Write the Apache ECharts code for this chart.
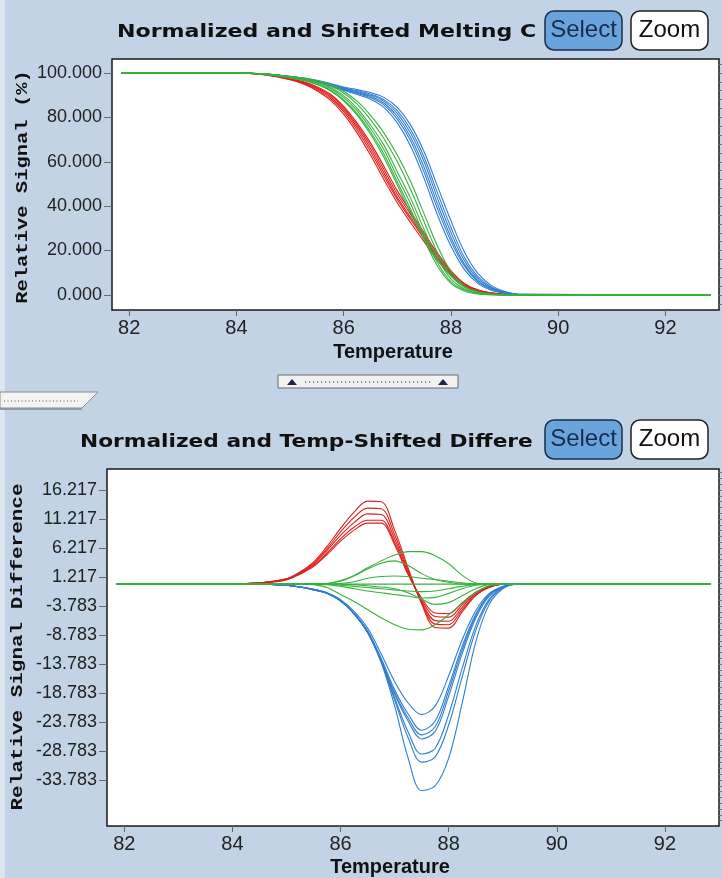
<!DOCTYPE html>
<html>
<head>
<meta charset="utf-8">
<script src="https://cdn.jsdelivr.net/npm/echarts@6/dist/echarts.min.js"></script>
<style>
  html, body { margin: 0; padding: 0; background: #c1d3e4; }
  #main { width: 722px; height: 878px; }
</style>
</head>
<body>
<div id="main"></div>
<script>
const temps = [81.85, 84.0, 84.5, 85.0, 85.25, 85.5, 85.75, 86.0, 86.25, 86.5, 86.75,
               87.0, 87.25, 87.5, 87.75, 88.0, 88.25, 88.5, 88.75, 89.0, 89.25, 92.85]

// top panel: normalized melting curves, relative signal (%)
const meltRed = [
  [100,100,99.3,97.3,95.6,93.0,89.3,83.5,75.5,66.0,55.0,44.0,35.0,26.0,17.0,9.8,4.5,2.0,0.8,0.2,0,0],
  [100,100,99.2,97.0,95.0,92.0,87.8,81.5,73.0,63.0,52.0,41.5,32.5,24.0,15.5,8.8,4.0,1.7,0.6,0.1,0,0],
  [100,100,99.4,97.6,96.0,93.8,90.5,85.0,77.5,68.5,58.0,47.0,37.5,28.0,18.8,11.0,5.2,2.3,0.9,0.2,0,0],
  [100,100,99.3,97.2,95.3,92.5,88.6,82.6,74.3,64.6,53.6,43.0,34.0,25.2,16.4,9.4,4.3,1.9,0.7,0.1,0,0],
  [100,100,99.4,97.5,95.8,93.4,90.0,84.3,76.5,67.3,56.5,45.5,36.3,27.0,18.0,10.5,5.0,2.2,0.9,0.2,0,0]
]
const meltGreen = [
  [100,100,99.5,98.0,97.0,95.5,93.0,89.0,83.0,75.0,65.5,53.0,41.0,27.0,14.5,6.0,2.3,0.6,0.1,0,0,0],
  [100,100,99.5,97.8,96.7,95.0,92.3,88.0,81.8,73.5,63.5,51.0,38.5,25.0,13.0,5.2,1.8,0.4,0.1,0,0,0],
  [100,100,99.6,98.2,97.3,95.9,93.6,89.8,84.2,76.5,67.5,55.5,43.5,29.5,16.5,7.2,2.8,0.8,0.2,0,0,0],
  [100,100,99.6,98.3,97.5,96.3,94.3,91.0,86.0,79.0,70.5,60.0,47.5,33.0,19.0,8.8,3.5,1.1,0.3,0,0,0],
  [100,100,99.6,98.4,97.7,96.6,94.8,91.8,87.3,81.0,73.0,63.0,51.0,36.5,22.0,10.5,4.2,1.4,0.4,0.1,0,0],
  [100,100,99.4,97.8,96.6,94.8,92.0,87.5,81.0,72.5,62.0,49.5,37.0,25.5,15.8,8.5,3.8,1.4,0.4,0.1,0,0]
]
const meltBlue = [
  [100,100,99.5,98.3,97.4,96.2,94.6,92.8,91.2,89.5,86.5,80.5,71.0,57.5,41.0,26.0,14.0,6.5,2.8,1.0,0.2,0],
  [100,100,99.5,98.2,97.2,95.9,94.2,92.2,90.3,88.2,84.5,77.5,67.0,52.5,36.0,22.0,11.5,5.2,2.1,0.7,0.1,0],
  [100,100,99.6,98.4,97.6,96.5,95.0,93.3,92.0,90.5,88.0,83.0,74.5,62.0,46.0,30.5,17.0,8.3,3.6,1.3,0.3,0],
  [100,100,99.5,98.3,97.3,96.0,94.4,92.5,90.8,88.9,85.6,79.2,69.3,55.3,38.8,24.3,13.0,6.0,2.5,0.9,0.2,0],
  [100,100,99.6,98.4,97.5,96.4,94.8,93.0,91.6,90.0,87.3,81.8,72.8,60.0,43.5,28.2,15.5,7.4,3.2,1.2,0.3,0],
  [100,100,99.6,98.5,97.7,96.7,95.3,93.7,92.5,91.2,89.0,84.5,76.5,64.5,49.0,33.5,19.5,9.8,4.3,1.6,0.4,0]
]

// bottom panel: temp-shifted difference curves
const diffRed = [
  [0,0,0.2,0.9,2.1,3.8,6.5,9.6,12.4,14.3,14.2,9.3,2.8,-3.4,-7.5,-7.6,-4.8,-2.0,-0.6,0,0,0],
  [0,0,0.2,0.9,2.0,3.6,6.1,9.0,11.5,13.1,13.0,8.5,2.4,-3.2,-6.9,-7.0,-4.4,-1.9,-0.5,0,0,0],
  [0,0,0.2,0.8,1.9,3.4,5.8,8.4,10.6,12.1,12.0,7.8,2.1,-3.0,-6.3,-6.4,-4.0,-1.7,-0.5,0,0,0],
  [0,0,0.2,0.8,1.8,3.2,5.4,7.8,9.8,11.0,11.0,7.2,1.8,-2.7,-5.6,-5.7,-3.6,-1.5,-0.4,0,0,0],
  [0,0,0.1,0.7,1.7,3.0,5.1,7.4,9.3,10.5,10.5,6.8,1.6,-2.4,-5.0,-5.1,-3.2,-1.4,-0.4,0,0,0]
]
const diffBlue = [
  [0,0,0,-0.2,-0.5,-0.9,-1.5,-2.7,-4.7,-7.6,-12.0,-16.8,-20.5,-22.5,-21.0,-15.8,-9.6,-4.6,-1.6,-0.4,0,0],
  [0,0,0,-0.2,-0.5,-0.9,-1.5,-2.8,-5.0,-8.1,-12.8,-18.2,-22.4,-25.2,-23.6,-17.6,-10.7,-5.2,-1.8,-0.4,0,0],
  [0,0,0,-0.2,-0.5,-0.9,-1.6,-2.9,-5.1,-8.3,-13.1,-18.7,-23.1,-26.0,-24.6,-18.4,-11.3,-5.5,-1.9,-0.5,0,0],
  [0,0,0,-0.2,-0.5,-1.0,-1.6,-2.9,-5.2,-8.4,-13.3,-19.0,-23.6,-26.7,-25.4,-19.3,-12.0,-5.9,-2.1,-0.5,0,0],
  [0,0,0,-0.2,-0.5,-1.0,-1.6,-2.9,-5.1,-8.2,-13.2,-19.6,-25.5,-29.3,-28.3,-22.5,-14.5,-7.2,-2.6,-0.6,0,0],
  [0,0,0,-0.2,-0.5,-1.0,-1.6,-2.9,-5.1,-8.2,-13.3,-20.0,-26.5,-30.7,-29.8,-24.3,-16.0,-8.0,-2.9,-0.7,0,0],
  [0,0,0,-0.2,-0.5,-1.0,-1.6,-2.9,-5.1,-8.3,-13.5,-21.0,-30.0,-35.6,-34.8,-30.0,-20.5,-10.0,-3.5,-0.8,0,0]
]
const diffGreen = [
  [0,0,0,0,0,0,0.1,0.6,1.5,2.8,4.0,5.0,5.6,5.6,4.9,3.5,1.5,0.2,0,0,0,0],
  [0,0,0,0,0,0,0.1,0.5,1.4,2.6,3.6,4.0,3.2,1.8,0.8,0.3,0,0,0,0,0,0],
  [0,0,0,0,0,0,0,0.1,0.4,1.0,1.3,1.4,1.3,1.0,0.8,0.5,0.2,0,0,0,0,0],
  [0,0,0,0,0,0,0,-0.2,-0.4,-0.6,-0.8,-1.0,-1.2,-1.3,-1.2,-0.8,-0.4,-0.1,0,0,0,0],
  [0,0,0,0,0,0,-0.1,-0.4,-0.8,-1.2,-1.5,-1.8,-2.1,-2.4,-2.3,-1.6,-0.8,-0.2,0,0,0,0],
  [0,0,0,0,0,-0.1,-0.6,-1.8,-3.0,-4.4,-5.8,-7.0,-7.8,-7.9,-7.0,-5.3,-3.3,-1.5,-0.3,0,0,0],
  [0,0,0,0,0,0,0,0,-0.1,-0.3,-0.5,-0.8,-1.5,-2.6,-3.5,-3.2,-2.0,-0.8,-0.1,0,0,0],
  [0,0,0,0,0,0,0,0,0,0,0,0,0,0,0,0,0,0,0,0,0,0]
]

// tick labels
const tempTicks = [82, 84, 86, 88, 90, 92]
const meltTicks = [0, 20, 40, 60, 80, 100]
const diffTicks = [16.217, 11.217, 6.217, 1.217, -3.783, -8.783, -13.783, -18.783, -23.783, -28.783, -33.783]

const RED = '#de1f1c'
const GREEN = '#37b23f'
const BLUE = '#2f7dcf'
const tickFont = '"Liberation Sans", sans-serif'

var minorMelt = []
for (var v = -4; v <= 106; v += 4) minorMelt.push(v)
var minorDiff = []
for (var w = -41.783; w <= 19.3; w += 1) minorDiff.push(+w.toFixed(3))

function curve(vals, color, ax) {
  return {
    type: 'line', xAxisIndex: ax, yAxisIndex: ax * 2,
    data: temps.map(function (t, i) { return [t, vals[i]] }),
    symbol: 'none', smooth: 0.35, silent: true,
    lineStyle: { width: 1.1, color: color }, itemStyle: { color: color }
  }
}

function xAx(gi) {
  return {
    type: 'value', gridIndex: gi, min: 81.68, max: 93.0,
    axisLine: { show: false, onZero: false }, splitLine: { show: false },
    axisTick: { show: true, length: 6, customValues: tempTicks, lineStyle: { color: '#666' } },
    axisLabel: { customValues: tempTicks, margin: 8, fontFamily: tickFont, fontSize: 20, color: '#222' }
  }
}

function yAx(gi, min, max, ticks) {
  return {
    type: 'value', gridIndex: gi, min: min, max: max,
    axisLine: { show: false, onZero: false }, splitLine: { show: false },
    axisTick: { show: true, length: 8, customValues: ticks, lineStyle: { color: '#666' } },
    axisLabel: {
      customValues: ticks, margin: 10, fontFamily: tickFont, fontSize: 18, color: '#222',
      formatter: function (val) { return val.toFixed(3) }
    }
  }
}

function yMinor(gi, min, max, ticks) {
  return {
    type: 'value', gridIndex: gi, min: min, max: max,
    axisLine: { show: false, onZero: false }, splitLine: { show: false }, axisLabel: { show: false },
    axisTick: { show: true, length: 3, customValues: ticks, lineStyle: { color: '#777' } }
  }
}

function button(x, y, label, fill, stroke, txt) {
  return [
    { type: 'rect', shape: { x: x, y: y, width: 77, height: 39, r: 9 },
      style: { fill: fill, stroke: stroke, lineWidth: 1.5 } },
    { type: 'text', x: x + 38.5, y: y + 19.5,
      style: { text: label, font: '24px "Liberation Sans", sans-serif', fill: txt,
               textAlign: 'center', textVerticalAlign: 'middle' } }
  ]
}

var series = []
meltBlue.forEach(function (d) { series.push(curve(d, BLUE, 0)) })
meltRed.forEach(function (d) { series.push(curve(d, RED, 0)) })
meltGreen.forEach(function (d) { series.push(curve(d, GREEN, 0)) })
diffBlue.forEach(function (d) { series.push(curve(d, BLUE, 1)) })
diffRed.forEach(function (d) { series.push(curve(d, RED, 1)) })
diffGreen.forEach(function (d) { series.push(curve(d, GREEN, 1)) })

var graphics = [
  { type: 'rect', shape: { x: 0, y: 0, width: 5, height: 878 }, style: { fill: '#dce6ef' } },
  { type: 'text', x: 117, y: 33, scaleX: 1.3,
    style: { text: 'Normalized and Shifted Melting C', font: 'bold 17px "DejaVu Sans", sans-serif',
             fill: '#111', textAlign: 'left', textVerticalAlign: 'middle' } },
  { type: 'text', x: 80, y: 443, scaleX: 1.277,
    style: { text: 'Normalized and Temp-Shifted Differe', font: 'bold 17px "DejaVu Sans", sans-serif',
             fill: '#111', textAlign: 'left', textVerticalAlign: 'middle' } },
  { type: 'text', x: 23, y: 187, rotation: Math.PI / 2, scaleX: 1.28,
    style: { text: 'Relative Signal (%)', font: 'bold 16px "Liberation Mono", monospace',
             fill: '#111', textAlign: 'center', textVerticalAlign: 'middle' } },
  { type: 'text', x: 18, y: 647, rotation: Math.PI / 2, scaleX: 1.31,
    style: { text: 'Relative Signal Difference', font: 'bold 16px "Liberation Mono", monospace',
             fill: '#111', textAlign: 'center', textVerticalAlign: 'middle' } },
  { type: 'text', x: 393, y: 352,
    style: { text: 'Temperature', font: 'bold 20px "Liberation Sans", sans-serif',
             fill: '#111', textAlign: 'center', textVerticalAlign: 'middle' } },
  { type: 'text', x: 390, y: 867,
    style: { text: 'Temperature', font: 'bold 20px "Liberation Sans", sans-serif',
             fill: '#111', textAlign: 'center', textVerticalAlign: 'middle' } },
  // little splitter handle between the panels
  { type: 'rect', shape: { x: 278, y: 375, width: 180, height: 13 },
    style: { fill: '#f2f2f2', stroke: '#6a6a6a', lineWidth: 1 } },
  { type: 'polygon', shape: { points: [[287, 385], [297, 385], [292, 379]] }, style: { fill: '#1a2550' } },
  { type: 'polygon', shape: { points: [[438, 385], [448, 385], [443, 379]] }, style: { fill: '#1a2550' } },
  { type: 'line', shape: { x1: 305, y1: 382, x2: 431, y2: 382 },
    style: { stroke: '#1a2550', lineWidth: 1.2, lineDash: [1.2, 2.8] } },
  // tab on the left
  { type: 'polygon', shape: { points: [[0, 392], [98, 392], [82, 408], [0, 408]] },
    style: { fill: '#f4f4f4', stroke: '#8a8a8a', lineWidth: 1 } },
  { type: 'line', shape: { x1: 0, y1: 409, x2: 82, y2: 409 }, style: { stroke: '#8e9aa6', lineWidth: 2 } },
  { type: 'line', shape: { x1: 4, y1: 401, x2: 78, y2: 401 },
    style: { stroke: '#555', lineWidth: 1, lineDash: [1, 2.5] } }
]
graphics = graphics.concat(
  button(545, 11, 'Select', '#69a5dc', '#1d2c45', '#1b2b4a'),
  button(631, 11, 'Zoom', '#ffffff', '#222222', '#111111'),
  button(545, 420, 'Select', '#69a5dc', '#1d2c45', '#1b2b4a'),
  button(631, 420, 'Zoom', '#ffffff', '#222222', '#111111')
)

var chart = echarts.init(document.getElementById('main'))
chart.setOption({
  animation: false,
  backgroundColor: '#c1d3e4',
  grid: [
    { left: 112, top: 59, width: 607, height: 251, show: true, backgroundColor: '#ffffff',
      borderColor: '#1a1a1a', borderWidth: 1.5 },
    { left: 107, top: 469, width: 612, height: 357, show: true, backgroundColor: '#ffffff',
      borderColor: '#1a1a1a', borderWidth: 1.5 }
  ],
  xAxis: [xAx(0), xAx(1)],
  yAxis: [
    yAx(0, -6.8, 106.3, meltTicks),
    yMinor(0, -6.8, 106.3, minorMelt),
    yAx(1, -41.71, 19.84, diffTicks),
    yMinor(1, -41.71, 19.84, minorDiff)
  ],
  series: series,
  graphic: graphics
})
</script>
</body>
</html>
